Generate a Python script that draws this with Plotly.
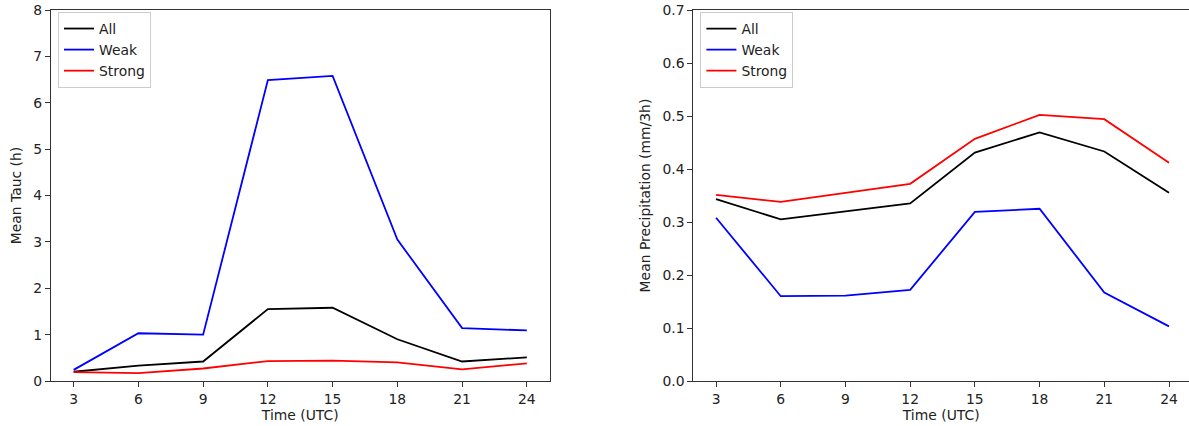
import plotly.graph_objects as go

time_utc = [3, 6, 9, 12, 15, 18, 21, 24]

tauc_all = [0.20, 0.33, 0.42, 1.55, 1.58, 0.90, 0.42, 0.51]
tauc_weak = [0.24, 1.03, 1.00, 6.49, 6.58, 3.05, 1.14, 1.09]
tauc_strong = [0.19, 0.17, 0.27, 0.43, 0.44, 0.40, 0.25, 0.38]

precip_all = [0.343, 0.305, 0.320, 0.335, 0.431, 0.469, 0.433, 0.355]
precip_weak = [0.308, 0.160, 0.161, 0.172, 0.319, 0.325, 0.167, 0.103]
precip_strong = [0.351, 0.338, 0.355, 0.372, 0.457, 0.502, 0.494, 0.412]

series_names = ["All", "Weak", "Strong"]
series_colors = ["#000000", "#0000ff", "#ff0000"]

x_ticks = [3, 6, 9, 12, 15, 18, 21, 24]
tauc_ticks = [0, 1, 2, 3, 4, 5, 6, 7, 8]
precip_ticks = [0.0, 0.1, 0.2, 0.3, 0.4, 0.5, 0.6, 0.7]

W, H = 1189, 426
FONT = "DejaVu Sans"
FS = 13.9

fig = go.Figure()

for name, col, vals in zip(series_names, series_colors, [tauc_all, tauc_weak, tauc_strong]):
    fig.add_trace(go.Scatter(x=time_utc, y=vals, mode="lines", name=name,
                             line=dict(color=col, width=1.8),
                             xaxis="x", yaxis="y", legend="legend"))
for name, col, vals in zip(series_names, series_colors, [precip_all, precip_weak, precip_strong]):
    fig.add_trace(go.Scatter(x=time_utc, y=vals, mode="lines", name=name,
                             line=dict(color=col, width=1.8),
                             xaxis="x2", yaxis="y2", legend="legend2"))

axis_common = dict(showgrid=False, zeroline=False, showline=True, linecolor="#333333",
                   linewidth=1.1, ticks="outside", ticklen=5, tickwidth=1, tickcolor="#333333",
                   automargin=False,
                   tickfont=dict(family=FONT, size=FS, color="#222222"))

x1 = (51 / W, 549.5 / W)
x2 = (693.4 / W, 1.0)
PH = 371

fig.update_layout(
    width=W, height=H,
    margin=dict(l=0, r=0, t=10, b=45),
    paper_bgcolor="white", plot_bgcolor="white",
    font=dict(family=FONT, size=FS, color="#222222"),
    xaxis=dict(domain=list(x1), range=[1.95, 25.05], tickvals=x_ticks, mirror=True,
               title=dict(text="Time (UTC)", font=dict(size=FS), standoff=4),
               anchor="y", **axis_common),
    yaxis=dict(domain=[0, 1], range=[0, 8], tickvals=tauc_ticks, mirror=True,
               title=dict(text="Mean Tauc (h)", font=dict(size=FS), standoff=8),
               anchor="x", **axis_common),
    xaxis2=dict(domain=list(x2), range=[1.95, 24 + (1189 - 1169) / 21.57], tickvals=x_ticks,
                mirror=True,
                title=dict(text="Time (UTC)", font=dict(size=FS), standoff=4),
                anchor="y2", **axis_common),
    yaxis2=dict(domain=[0, 1], range=[0, 0.7], tickvals=precip_ticks, tickformat=".1f",
                mirror=False,
                title=dict(text="Mean Precipitation (mm/3h)", font=dict(size=FS), standoff=8),
                anchor="x2", **axis_common),
    legend=dict(x=x1[0] + 7 / W, y=1 - 2 / PH, xanchor="left", yanchor="top",
                bgcolor="rgba(255,255,255,0.8)", bordercolor="#cccccc", borderwidth=1,
                font=dict(family=FONT, size=FS), itemwidth=30),
    legend2=dict(x=x2[0] + 7 / W, y=1 - 2 / PH, xanchor="left", yanchor="top",
                 bgcolor="rgba(255,255,255,0.8)", bordercolor="#cccccc", borderwidth=1,
                 font=dict(family=FONT, size=FS), itemwidth=30),
)

fig.write_html("out.html", config={"displayModeBar": False},
               post_script="document.body.style.margin='0px';")
